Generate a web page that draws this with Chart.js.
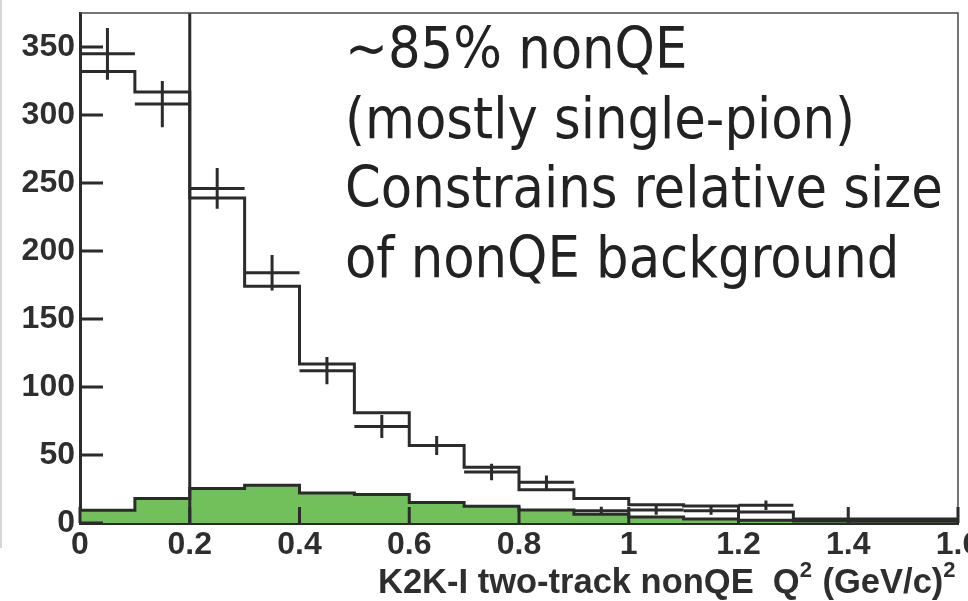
<!DOCTYPE html>
<html>
<head>
<meta charset="utf-8">
<script src="https://cdn.jsdelivr.net/npm/chart.js@4.4.1/dist/chart.umd.min.js"></script>
<style>
  html, body { margin: 0; padding: 0; background: #fff; overflow: hidden; }
  #wrap { position: absolute; left: 0; top: 0; width: 1000px; height: 601px; }
  #edge { position: absolute; left: 0; top: 0; width: 2px; height: 548px; background: #d6d6d6; }
</style>
</head>
<body>
<div id="wrap"><canvas id="q2-chart"></canvas></div>
<div id="edge"></div>
<script>
// Q^2 bins (GeV/c)^2, 0.1 wide
const binEdges = [0, 0.1, 0.2, 0.3, 0.4, 0.5, 0.6, 0.7, 0.8, 0.9, 1.0, 1.1, 1.2, 1.3, 1.4, 1.5, 1.6];
// MC total prediction per bin
const mcTotal = [332, 317, 239, 174, 117, 81, 57, 41, 24.5, 18, 13.5, 12.5, 8, 3, 3, 3];
// MC nonQE-like background (green)
const mcBackground = [9.3, 18, 25.3, 27.7, 22, 21, 15, 12.3, 9.5, 6.5, 4.5, 3, 2, 1.5, 1.5, 1.5];
// observed events and their errors
const dataCounts = [345, 308, 246, 184, 112, 71, 57, 37.5, 30, 9, 9.5, 9, 13, 0, 1.5, 1.5];
const dataErrors = [19, 17, 15, 13, 10, 8.5, 7, 6, 5, 3, 3.5, 3, 3.5, 0, 1, 1];
// cut position
const cutQ2 = 0.2;

const yTicks = [0, 50, 100, 150, 200, 250, 300, 350];
const xTicks = [0, 0.2, 0.4, 0.6, 0.8, 1.0, 1.2, 1.4, 1.6];

const noteLines = ["~85% nonQE", "(mostly single-pion)", "Constrains relative size", "of nonQE background"];
const xTitleParts = [["K2K-I two-track nonQE  Q", false], ["2", true], [" (GeV/c)", false], ["2", true]];

const ink = "#2b2b2b";
const green = "#72c05b";

function stepPoints(values) {
  const pts = values.map((v, i) => ({ x: binEdges[i], y: v }));
  pts.push({ x: binEdges[binEdges.length - 1], y: values[values.length - 1] });
  return pts;
}

const histExtras = {
  id: "histExtras",
  afterDatasetsDraw(chart) {
    const { ctx, scales: { x, y } } = chart;
    ctx.save();
    ctx.strokeStyle = ink;
    ctx.lineWidth = 3;
    dataCounts.forEach((n, i) => {
      if (!n) return;
      const yc = y.getPixelForValue(n);
      const x0 = x.getPixelForValue(binEdges[i]);
      const x1 = x.getPixelForValue(binEdges[i + 1]);
      const xc = x.getPixelForValue((binEdges[i] + binEdges[i + 1]) / 2);
      ctx.beginPath();
      ctx.moveTo(x0, yc);
      ctx.lineTo(x1, yc);
      ctx.moveTo(xc, y.getPixelForValue(n - dataErrors[i]));
      ctx.lineTo(xc, y.getPixelForValue(n + dataErrors[i]));
      ctx.stroke();
    });
    ctx.restore();
  },
  afterDraw(chart) {
    const { ctx, chartArea: a, scales: { x, y } } = chart;
    ctx.save();

    // thin frame on top and right
    ctx.strokeStyle = "#4a4a4a";
    ctx.lineWidth = 1.5;
    ctx.beginPath();
    ctx.moveTo(a.left, a.top);
    ctx.lineTo(a.right, a.top);
    ctx.lineTo(a.right, a.bottom);
    ctx.stroke();

    // inward ticks
    ctx.strokeStyle = ink;
    ctx.lineWidth = 3;
    ctx.beginPath();
    y.ticks.forEach((t) => {
      const py = y.getPixelForValue(t.value);
      ctx.moveTo(a.left, py);
      ctx.lineTo(a.left + 23, py);
    });
    x.ticks.forEach((t) => {
      const px = x.getPixelForValue(t.value);
      ctx.moveTo(px, a.bottom);
      ctx.lineTo(px, a.bottom - 16);
    });
    ctx.stroke();

    // x-axis title with superscripts
    let tx = 378;
    const base = 593;
    ctx.fillStyle = "#2e2e2e";
    ctx.textBaseline = "alphabetic";
    xTitleParts.forEach(([s, sup]) => {
      ctx.font = sup ? "bold 22px 'Liberation Sans'" : "bold 34.5px 'Liberation Sans'";
      ctx.fillText(s, tx, sup ? base - 16 : base);
      tx += ctx.measureText(s).width + (sup ? 1 : 0);
    });

    // annotation
    ctx.font = "57px 'DejaVu Sans Condensed'";
    ctx.fillStyle = "#222";
    noteLines.forEach((s, i) => ctx.fillText(s, 345, 68 + i * 69.5));

    ctx.restore();
  }
};

new Chart(document.getElementById("q2-chart"), {
  type: "line",
  data: {
    datasets: [
      {
        label: "cut",
        data: [{ x: cutQ2, y: 0 }, { x: cutQ2, y: 375 }],
        borderColor: ink,
        borderWidth: 3,
        pointRadius: 0,
        order: 1
      },
      {
        label: "MC total",
        data: stepPoints(mcTotal),
        stepped: "before",
        borderColor: ink,
        borderWidth: 3,
        pointRadius: 0,
        fill: false,
        order: 2
      },
      {
        label: "MC nonQE",
        data: stepPoints(mcBackground),
        stepped: "before",
        borderColor: ink,
        borderWidth: 3,
        pointRadius: 0,
        fill: "origin",
        backgroundColor: green,
        order: 3
      }
    ]
  },
  options: {
    responsive: true,
    maintainAspectRatio: false,
    animation: false,
    devicePixelRatio: 1,
    layout: { padding: { top: 13, right: 42, left: 0, bottom: 0 } },
    plugins: { legend: { display: false }, tooltip: { enabled: false } },
    scales: {
      x: {
        type: "linear",
        min: 0,
        max: 1.6,
        afterFit: (s) => { s.height = 78; s.paddingLeft = 0; s.paddingRight = 0; },
        afterBuildTicks: (s) => { s.ticks = xTicks.map((v) => ({ value: v })); },
        grid: { display: false, drawTicks: false },
        border: { display: true, color: ink, width: 3 },
        ticks: {
          autoSkip: false,
          maxRotation: 0,
          padding: 3,
          color: "#2e2e2e",
          font: { family: "'Liberation Sans'", size: 32, weight: "bold" },
          callback: (v) => String(Math.round(v * 10) / 10)
        }
      },
      y: {
        min: 0,
        max: 375,
        afterFit: (s) => { s.width = 80; s.paddingTop = 0; s.paddingBottom = 0; },
        afterBuildTicks: (s) => { s.ticks = yTicks.map((v) => ({ value: v })); },
        grid: { display: false, drawTicks: false },
        border: { display: true, color: ink, width: 3 },
        ticks: {
          padding: 5,
          color: "#2e2e2e",
          font: { family: "'Liberation Sans'", size: 32, weight: "bold" }
        }
      }
    }
  },
  plugins: [histExtras]
});
</script>
</body>
</html>
